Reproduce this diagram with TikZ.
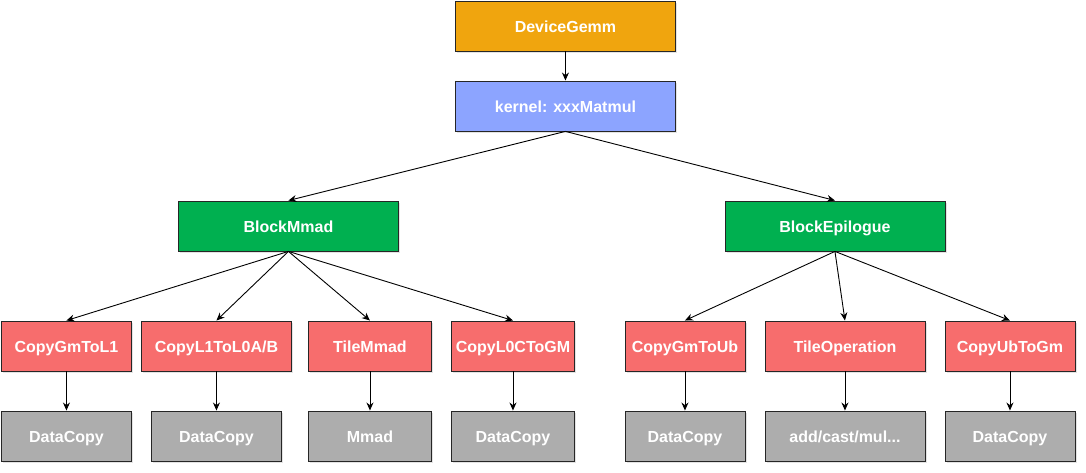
\documentclass[tikz,border=0pt]{standalone}
\usepackage{fontspec}
\setmainfont{Liberation Sans}
\usetikzlibrary{arrows.meta,shadows}
\definecolor{corange}{HTML}{F0A50E}
\definecolor{cblue}{HTML}{8CA4FF}
\definecolor{cgreen}{HTML}{00B050}
\definecolor{cred}{HTML}{F76D6D}
\definecolor{cgray}{HTML}{ADADAD}
\tikzset{
  box/.style={draw=black!85, line width=0.9pt, text=white, font=\bfseries\fontsize{16}{19}\selectfont,
    minimum height=50pt, inner sep=0pt, anchor=north west, text height=13pt, text depth=0pt,
    drop shadow={shadow xshift=2pt, shadow yshift=-2.5pt, opacity=0.18, fill=black!60}},
  conn/.style={draw=black, line width=0.9pt, -{Stealth[length=8pt,width=7pt]}}
}
\newcommand{\bx}[6]{\node[box, fill=#2, minimum width={(#5-#3)*1pt}] (#1) at (#3,#4) {#6};}
\begin{document}
\begin{tikzpicture}[x=1pt,y=-1pt]
\useasboundingbox (0,0) rectangle (1086,472);
\bx{dg}{corange}{455}{0.5}{675}{DeviceGemm}
\bx{ker}{cblue}{455}{80.5}{675}{kernel: xxxMatmul}
\bx{bm}{cgreen}{178}{200.5}{398}{BlockMmad}
\bx{be}{cgreen}{724.5}{200.5}{944.5}{BlockEpilogue}
\bx{c1}{cred}{1}{320.5}{131}{CopyGmToL1}
\bx{c2}{cred}{141}{320.5}{291}{CopyL1ToL0A/B}
\bx{c3}{cred}{308}{320.5}{431}{TileMmad}
\bx{c4}{cred}{451}{320.5}{574}{CopyL0CToGM}
\bx{c5}{cred}{624.5}{320.5}{744.5}{CopyGmToUb}
\bx{c6}{cred}{764.5}{320.5}{924.5}{TileOperation}
\bx{c7}{cred}{944.5}{320.5}{1074.5}{CopyUbToGm}
\bx{d1}{cgray}{1}{410.5}{131}{DataCopy}
\bx{d2}{cgray}{151}{410.5}{281}{DataCopy}
\bx{d3}{cgray}{308}{410.5}{431}{Mmad}
\bx{d4}{cgray}{451}{410.5}{574}{DataCopy}
\bx{d5}{cgray}{624.5}{410.5}{744.5}{DataCopy}
\bx{d6}{cgray}{764.5}{410.5}{924.5}{add/cast/mul...}
\bx{d7}{cgray}{944.5}{410.5}{1074.5}{DataCopy}
\draw[conn] (dg.south) -- (ker.north);
\draw[conn] (ker.south) -- (bm.north);
\draw[conn] (ker.south) -- (be.north);
\foreach \c in {c1,c2,c3,c4} \draw[conn] (bm.south) -- (\c.north);
\foreach \c in {c5,c6,c7} \draw[conn] (be.south) -- (\c.north);
\draw[conn] (c1.south) -- (d1.north);
\draw[conn] (c2.south) -- (d2.north);
\draw[conn] (c3.south) -- (d3.north);
\draw[conn] (c4.south) -- (d4.north);
\draw[conn] (c5.south) -- (d5.north);
\draw[conn] (c6.south) -- (d6.north);
\draw[conn] (c7.south) -- (d7.north);
\end{tikzpicture}
\end{document}
